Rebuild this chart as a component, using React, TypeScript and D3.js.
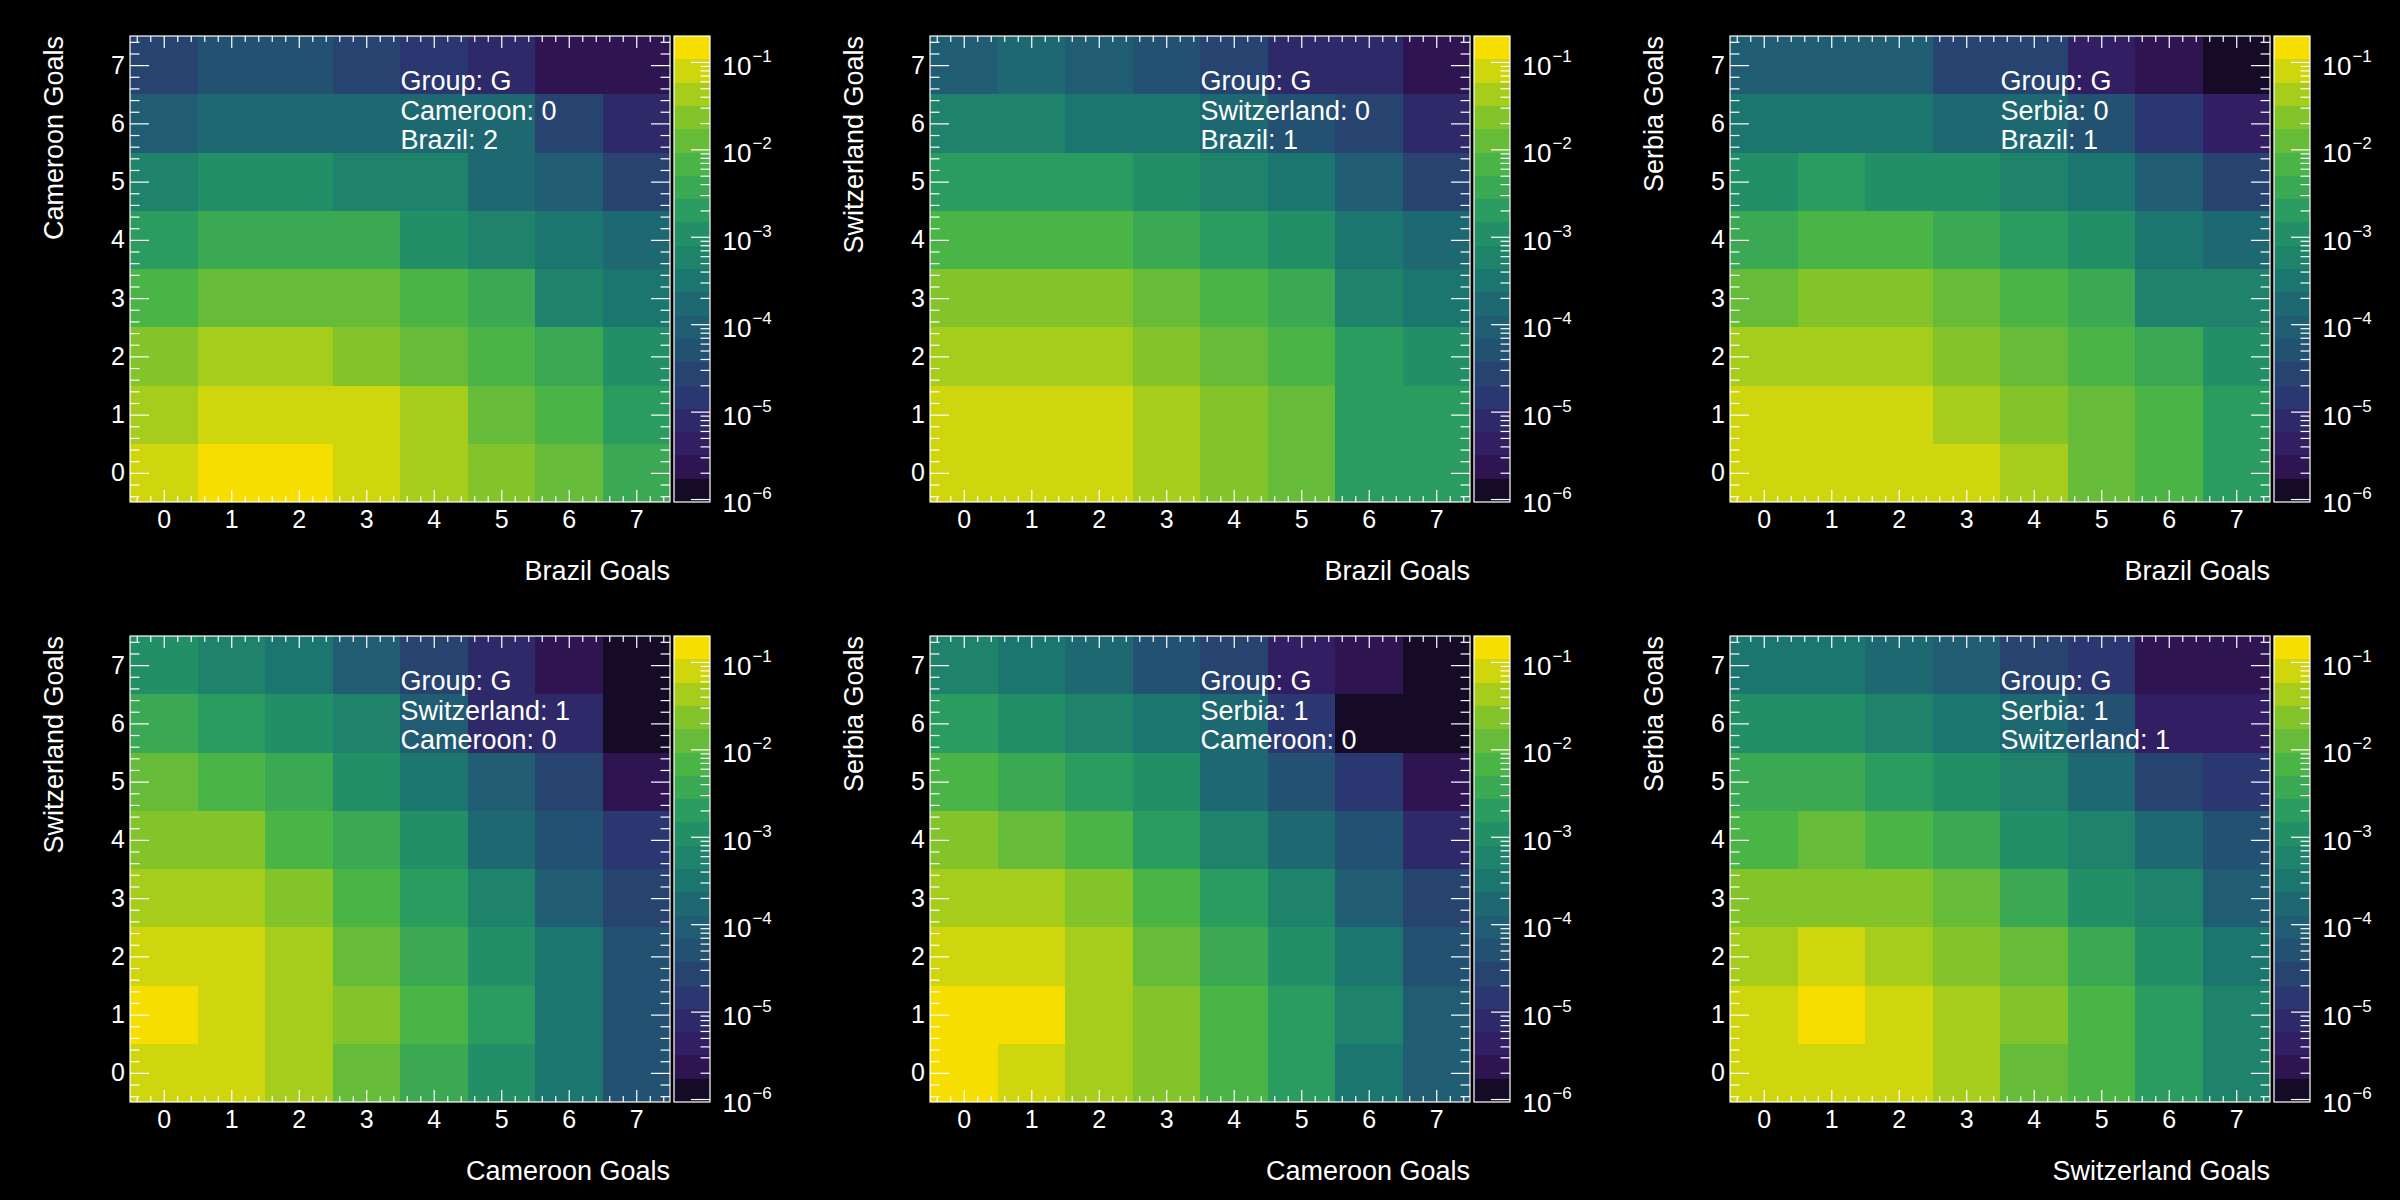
import React, { useRef, useEffect } from 'react';
import * as d3 from 'd3';

// Goals shown on both axes of every panel
const goals = [0, 1, 2, 3, 4, 5, 6, 7];

// z axis (probability) limits and number of colour levels
const zRange: [number, number] = [9.25e-7, 0.198];
const zLevels = 20;
const zDecades = [-6, -5, -4, -3, -2, -1];

// Probability grids, indexed [row team goals][column team goals], row 0 = 0 goals
const cameroonVsBrazil = [
  [0.079, 0.15, 0.15, 0.079, 0.043, 0.023, 0.013, 0.0037],
  [0.043, 0.079, 0.079, 0.079, 0.043, 0.013, 0.0068, 0.002],
  [0.023, 0.043, 0.043, 0.023, 0.013, 0.0068, 0.0037, 0.0011],
  [0.0068, 0.013, 0.013, 0.013, 0.0068, 0.0037, 5.9e-4, 3.2e-4],
  [0.002, 0.0037, 0.0037, 0.0037, 0.0011, 5.9e-4, 3.2e-4, 1.7e-4],
  [5.9e-4, 0.0011, 0.0011, 5.9e-4, 5.9e-4, 1.7e-4, 9.3e-5, 2.7e-5],
  [9.3e-5, 1.7e-4, 1.7e-4, 1.7e-4, 1.7e-4, 1.7e-4, 2.7e-5, 8e-6],
  [2.7e-5, 5e-5, 5e-5, 2.7e-5, 1.5e-5, 8e-6, 2.3e-6, 2.3e-6],
];

const switzerlandVsBrazil = [
  [0.079, 0.079, 0.079, 0.043, 0.023, 0.013, 0.002, 0.002],
  [0.079, 0.079, 0.079, 0.043, 0.023, 0.013, 0.002, 0.002],
  [0.043, 0.043, 0.043, 0.023, 0.013, 0.0068, 0.002, 0.0011],
  [0.023, 0.023, 0.023, 0.013, 0.0068, 0.0037, 5.9e-4, 3.2e-4],
  [0.0068, 0.0068, 0.0068, 0.0037, 0.002, 0.0011, 3.2e-4, 1.7e-4],
  [0.002, 0.002, 0.002, 0.0011, 5.9e-4, 3.2e-4, 9.3e-5, 2.7e-5],
  [5.9e-4, 5.9e-4, 3.2e-4, 3.2e-4, 1.7e-4, 5e-5, 2.7e-5, 8e-6],
  [9.3e-5, 1.7e-4, 9.3e-5, 5e-5, 2.7e-5, 8e-6, 8e-6, 2.3e-6],
];

const serbiaVsBrazil = [
  [0.079, 0.079, 0.079, 0.079, 0.043, 0.013, 0.0068, 0.002],
  [0.079, 0.079, 0.079, 0.043, 0.023, 0.013, 0.0068, 0.002],
  [0.043, 0.043, 0.043, 0.023, 0.013, 0.0068, 0.0037, 0.0011],
  [0.013, 0.023, 0.023, 0.013, 0.0068, 0.0037, 5.9e-4, 5.9e-4],
  [0.0037, 0.0068, 0.0068, 0.0037, 0.002, 0.0011, 3.2e-4, 1.7e-4],
  [0.0011, 0.002, 0.0011, 0.0011, 5.9e-4, 3.2e-4, 9.3e-5, 2.7e-5],
  [3.2e-4, 3.2e-4, 3.2e-4, 1.7e-4, 1.7e-4, 5e-5, 1.5e-5, 4.3e-6],
  [9.3e-5, 9.3e-5, 9.3e-5, 2.7e-5, 2.7e-5, 4.3e-6, 2.3e-6, 1.3e-6],
];

const switzerlandVsCameroon = [
  [0.079, 0.079, 0.043, 0.013, 0.0037, 0.0011, 3.2e-4, 5e-5],
  [0.15, 0.079, 0.043, 0.023, 0.0068, 0.002, 3.2e-4, 5e-5],
  [0.079, 0.079, 0.043, 0.013, 0.0037, 0.0011, 3.2e-4, 5e-5],
  [0.043, 0.043, 0.023, 0.0068, 0.002, 5.9e-4, 9.3e-5, 2.7e-5],
  [0.023, 0.023, 0.0068, 0.0037, 0.0011, 1.7e-4, 5e-5, 1.5e-5],
  [0.013, 0.0068, 0.0037, 0.0011, 3.2e-4, 9.3e-5, 2.7e-5, 2.3e-6],
  [0.0037, 0.002, 0.0011, 5.9e-4, 9.3e-5, 8e-6, 8e-6, 1.3e-6],
  [0.0011, 5.9e-4, 3.2e-4, 9.3e-5, 2.7e-5, 8e-6, 2.3e-6, 1.3e-6],
];

const serbiaVsCameroon = [
  [0.15, 0.079, 0.043, 0.023, 0.0068, 0.002, 3.2e-4, 9.3e-5],
  [0.15, 0.15, 0.043, 0.023, 0.0068, 0.002, 5.9e-4, 9.3e-5],
  [0.079, 0.079, 0.043, 0.013, 0.0037, 0.0011, 3.2e-4, 5e-5],
  [0.043, 0.043, 0.023, 0.0068, 0.002, 5.9e-4, 9.3e-5, 2.7e-5],
  [0.023, 0.013, 0.0068, 0.002, 5.9e-4, 1.7e-4, 5e-5, 8e-6],
  [0.0068, 0.0037, 0.002, 0.0011, 1.7e-4, 5e-5, 1.5e-5, 2.3e-6],
  [0.002, 0.0011, 5.9e-4, 3.2e-4, 1.7e-4, 1.5e-5, 1.3e-6, 1.3e-6],
  [5.9e-4, 3.2e-4, 1.7e-4, 5e-5, 2.7e-5, 4.3e-6, 2.3e-6, 1.3e-6],
];

const serbiaVsSwitzerland = [
  [0.079, 0.079, 0.079, 0.043, 0.013, 0.0068, 0.002, 5.9e-4],
  [0.079, 0.15, 0.079, 0.043, 0.023, 0.0068, 0.002, 5.9e-4],
  [0.043, 0.079, 0.043, 0.023, 0.013, 0.0037, 0.0011, 3.2e-4],
  [0.023, 0.023, 0.023, 0.013, 0.0037, 0.0011, 5.9e-4, 9.3e-5],
  [0.0068, 0.013, 0.0068, 0.0037, 0.0011, 5.9e-4, 1.7e-4, 5e-5],
  [0.0037, 0.0037, 0.002, 0.0011, 5.9e-4, 1.7e-4, 2.7e-5, 1.5e-5],
  [0.0011, 0.0011, 5.9e-4, 3.2e-4, 1.7e-4, 5e-5, 4.3e-6, 4.3e-6],
  [3.2e-4, 3.2e-4, 1.7e-4, 9.3e-5, 2.7e-5, 1.5e-5, 2.3e-6, 2.3e-6],
];

interface PanelSpec {
  grid: number[][];
  yTeam: string;
  xTeam: string;
  yScore: number;
  xScore: number;
}

const group = 'G';

const panels: PanelSpec[] = [
  { grid: cameroonVsBrazil, yTeam: 'Cameroon', xTeam: 'Brazil', yScore: 0, xScore: 2 },
  { grid: switzerlandVsBrazil, yTeam: 'Switzerland', xTeam: 'Brazil', yScore: 0, xScore: 1 },
  { grid: serbiaVsBrazil, yTeam: 'Serbia', xTeam: 'Brazil', yScore: 0, xScore: 1 },
  { grid: switzerlandVsCameroon, yTeam: 'Switzerland', xTeam: 'Cameroon', yScore: 1, xScore: 0 },
  { grid: serbiaVsCameroon, yTeam: 'Serbia', xTeam: 'Cameroon', yScore: 1, xScore: 0 },
  { grid: serbiaVsSwitzerland, yTeam: 'Serbia', xTeam: 'Switzerland', yScore: 1, xScore: 1 },
];

// ROOT-style viridis palette
const viridisStops = ['#1a091e', '#331860', '#2b3770', '#215772', '#1c7670', '#239665', '#4ab448', '#90c823', '#f6de00'];
const viridis = d3.piecewise(d3.interpolateRgb, viridisStops);
const levelColor = (i: number) =>
  i === 0 ? '#150b27' : viridis(Math.floor(((i + 0.99) * 255) / zLevels) / 254);

const W = 2400;
const H = 1200;
const PAD_W = 800;
const PAD_H = 600;
const FONT = '"Liberation Sans", Arial, Helvetica, sans-serif';

const App: React.FC = () => {
  const svgRef = useRef<SVGSVGElement | null>(null);

  useEffect(() => {
    if (!svgRef.current) return;
    const svg = d3.select(svgRef.current);
    svg.selectAll('*').remove();

    svg.append('rect').attr('width', W).attr('height', H).attr('fill', 'black');

    const frame = { left: 130, right: 670, top: 36, bottom: 502 };
    const bar = { left: 674, right: 710 };

    const x = d3.scaleLinear().domain([-0.5, 7.5]).range([frame.left, frame.right]);
    const y = d3.scaleLinear().domain([-0.5, 7.5]).range([frame.bottom, frame.top]);
    const z = d3.scaleLog().domain(zRange).range([frame.bottom, frame.top]);
    const zBand = d3.scaleLog().domain(zRange).range([0, zLevels]);
    const level = (v: number) => Math.max(0, Math.min(zLevels - 1, Math.floor(zBand(v))));

    const minorGoals = d3.range(-2, 38).filter((k) => k % 5 !== 0).map((k) => k / 5);
    const zMinor = zDecades
      .flatMap((e) => d3.range(2, 10).map((m) => m * Math.pow(10, e)))
      .filter((v) => v >= zRange[0] && v <= zRange[1]);

    const whiteAxis = (sel: d3.Selection<SVGGElement, unknown, null, undefined>, fontSize = 25) => {
      sel.select('.domain').remove();
      sel.style('color', 'white').attr('font-family', FONT).attr('font-size', fontSize);
      sel.selectAll('line').attr('stroke-width', 1.2);
    };

    panels.forEach((p, i) => {
      const g = svg
        .append('g')
        .attr('transform', `translate(${(i % 3) * PAD_W},${Math.floor(i / 3) * PAD_H})`);

      // heat-map cells
      const cells = p.grid.flatMap((row, gy) => row.map((v, gx) => ({ gx, gy, v })));
      g.selectAll('rect.cell')
        .data(cells)
        .join('rect')
        .attr('class', 'cell')
        .attr('x', (d) => x(d.gx - 0.5))
        .attr('y', (d) => y(d.gy + 0.5))
        .attr('width', x(0.5) - x(-0.5))
        .attr('height', y(-0.5) - y(0.5))
        .attr('fill', (d) => levelColor(level(d.v)))
        .attr('shape-rendering', 'crispEdges');

      // axes: major + minor ticks on all four sides
      g.append('g')
        .attr('transform', `translate(0,${frame.bottom})`)
        .call(d3.axisBottom(x).tickValues(goals).tickSize(-12).tickPadding(8.5).tickFormat(d3.format('d')))
        .call(whiteAxis);
      g.append('g')
        .attr('transform', `translate(0,${frame.bottom})`)
        .call(d3.axisBottom(x).tickValues(minorGoals).tickSize(-6).tickFormat(() => ''))
        .call(whiteAxis);
      g.append('g')
        .attr('transform', `translate(0,${frame.top})`)
        .call(d3.axisTop(x).tickValues(goals).tickSize(-12).tickFormat(() => ''))
        .call(whiteAxis);
      g.append('g')
        .attr('transform', `translate(0,${frame.top})`)
        .call(d3.axisTop(x).tickValues(minorGoals).tickSize(-6).tickFormat(() => ''))
        .call(whiteAxis);
      g.append('g')
        .attr('transform', `translate(${frame.left},0)`)
        .call(d3.axisLeft(y).tickValues(goals).tickSize(-19).tickPadding(5).tickFormat(d3.format('d')))
        .call(whiteAxis);
      g.append('g')
        .attr('transform', `translate(${frame.left},0)`)
        .call(d3.axisLeft(y).tickValues(minorGoals).tickSize(-9.5).tickFormat(() => ''))
        .call(whiteAxis);
      g.append('g')
        .attr('transform', `translate(${frame.right},0)`)
        .call(d3.axisRight(y).tickValues(goals).tickSize(-19).tickFormat(() => ''))
        .call(whiteAxis);
      g.append('g')
        .attr('transform', `translate(${frame.right},0)`)
        .call(d3.axisRight(y).tickValues(minorGoals).tickSize(-9.5).tickFormat(() => ''))
        .call(whiteAxis);

      g.append('rect')
        .attr('x', frame.left)
        .attr('y', frame.top)
        .attr('width', frame.right - frame.left)
        .attr('height', frame.bottom - frame.top)
        .attr('fill', 'none')
        .attr('stroke', 'white')
        .attr('stroke-width', 1.2);

      // colour bar
      const edges = d3.range(zLevels + 1).map((k) => zBand.invert(k));
      g.selectAll('rect.level')
        .data(d3.range(zLevels))
        .join('rect')
        .attr('class', 'level')
        .attr('x', bar.left)
        .attr('width', bar.right - bar.left)
        .attr('y', (k) => z(edges[k + 1]))
        .attr('height', (k) => z(edges[k]) - z(edges[k + 1]))
        .attr('fill', (k) => levelColor(k))
        .attr('shape-rendering', 'crispEdges');

      const zAxis = g
        .append('g')
        .attr('transform', `translate(${bar.right},0)`)
        .call(
          d3
            .axisRight(z)
            .tickValues(zDecades.map((e) => Math.pow(10, e)))
            .tickSize(-19)
            .tickFormat(() => '')
        )
        .call(whiteAxis);
      zAxis.selectAll('.tick text').remove();
      zAxis
        .selectAll<SVGGElement, number>('.tick')
        .append('text')
        .attr('x', 12.5)
        .attr('y', 12.5)
        .attr('fill', 'white')
        .attr('font-size', 26)
        .attr('text-anchor', 'start')
        .each(function (d) {
          const t = d3.select(this);
          t.append('tspan').text('10');
          t.append('tspan')
            .attr('dy', -13)
            .attr('dx', 1)
            .attr('font-size', 17)
            .text(`\u2212${-Math.round(Math.log10(d))}`);
        });

      g.append('g')
        .attr('transform', `translate(${bar.right},0)`)
        .call(d3.axisRight(z).tickValues(zMinor).tickSize(-9.5).tickFormat(() => ''))
        .call(whiteAxis);

      g.append('rect')
        .attr('x', bar.left)
        .attr('y', frame.top)
        .attr('width', bar.right - bar.left)
        .attr('height', frame.bottom - frame.top)
        .attr('fill', 'none')
        .attr('stroke', 'white')
        .attr('stroke-width', 1.2);

      // axis titles
      g.append('text')
        .attr('x', frame.right)
        .attr('y', 580)
        .attr('text-anchor', 'end')
        .attr('fill', 'white')
        .attr('font-family', FONT)
        .attr('font-size', 27)
        .text(`${p.xTeam} Goals`);

      g.append('text')
        .attr('transform', `translate(63,${frame.top}) rotate(-90)`)
        .attr('text-anchor', 'end')
        .attr('fill', 'white')
        .attr('font-family', FONT)
        .attr('font-size', 27)
        .text(`${p.yTeam} Goals`);

      // current score box
      const lines = [`Group: ${group}`, `${p.yTeam}: ${p.yScore}`, `${p.xTeam}: ${p.xScore}`];
      g.selectAll('text.info')
        .data(lines)
        .join('text')
        .attr('class', 'info')
        .attr('x', 400.5)
        .attr('y', (_, k) => 90 + k * 29.5)
        .attr('fill', 'white')
        .attr('font-family', FONT)
        .attr('font-size', 27)
        .text((d) => d);
    });
  }, []);

  return (
    <div style={{ position: 'absolute', left: 0, top: 0 }}>
      <svg ref={svgRef} width={W} height={H} style={{ display: 'block' }}></svg>
    </div>
  );
};

export default App;
